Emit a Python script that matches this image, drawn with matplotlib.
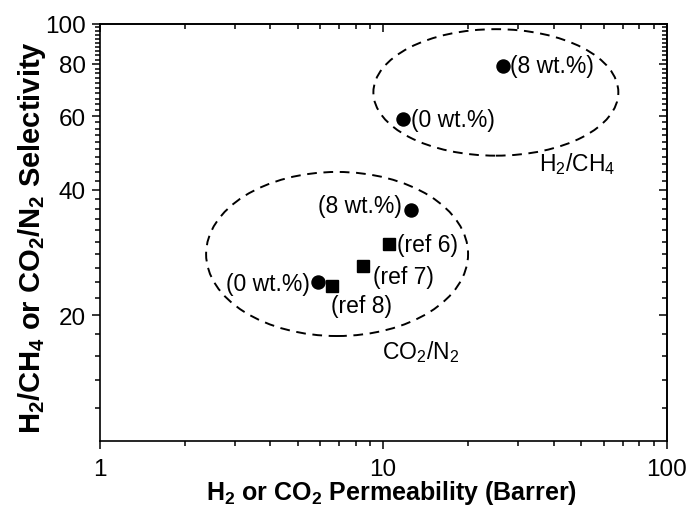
import matplotlib
matplotlib.use('Agg')
import matplotlib.pyplot as plt
from matplotlib.patches import Ellipse

plt.rcParams['font.family'] = ['Liberation Sans', 'DejaVu Sans']
plt.rcParams['mathtext.fontset'] = 'custom'
plt.rcParams['mathtext.rm'] = 'Liberation Sans'
plt.rcParams['mathtext.bf'] = 'Liberation Sans:bold'

# H2/CH4 : this work
h2_perm = [11.8, 26.5]
h2_sel = [59.0, 79.2]
h2_labels = ['(0 wt.%)', '(8 wt.%)']

# CO2/N2 : this work
co2_perm = [5.9, 12.6]
co2_sel = [24.0, 35.8]
co2_labels = ['(0 wt.%)', '(8 wt.%)']

# CO2/N2 : literature
ref_perm = [10.5, 8.5, 6.6]
ref_sel = [29.7, 26.3, 23.5]
ref_labels = ['(ref 6)', '(ref 7)', '(ref 8)']

x_ticks = [1, 10, 100]
y_ticks = [20, 40, 60, 80, 100]
y_minor = [v for v in range(12, 100, 2) if v % 20]

fig = plt.figure(figsize=(6.91, 5.10), dpi=100)
ax = fig.add_axes([0.144, 0.1333, 0.8206, 0.8186])
ax.set_xscale('log')
ax.set_yscale('log')
ax.set_xlim(1, 100)
ax.set_ylim(10, 100)

ax.plot(h2_perm, h2_sel, 'o', color='black', ms=9.4, zorder=3)
ax.plot(co2_perm, co2_sel, 'o', color='black', ms=9.4, zorder=3)
ax.plot(ref_perm, ref_sel, 's', color='black', ms=8.2, zorder=3)

fs_ann = 16.5
# label offsets in pixels (dx, dy, ha)
h2_off = [(8, 0, 'left'), (7, 0, 'left')]
co2_off = [(-8, -1, 'right'), (-10, 4, 'right')]
ref_off = [(8, -1, 'left'), (10, -11, 'left'), (-1, -19, 'left')]
for xs, ys, labs, offs in [(h2_perm, h2_sel, h2_labels, h2_off),
                           (co2_perm, co2_sel, co2_labels, co2_off),
                           (ref_perm, ref_sel, ref_labels, ref_off)]:
    for x, y, lab, (dx, dy, ha) in zip(xs, ys, labs, offs):
        ax.annotate(lab, (x, y), xytext=(dx, dy), textcoords='offset pixels',
                    ha=ha, va='center', fontsize=fs_ann)

# dashed regions
dash = (0, (5, 3.4))
ax.add_patch(Ellipse((0.699, 0.835), 0.432, 0.303, transform=ax.transAxes,
                     fill=False, ls=dash, lw=1.4, ec='black'))
ax.add_patch(Ellipse((0.419, 0.448), 0.462, 0.393, transform=ax.transAxes,
                     fill=False, ls=dash, lw=1.4, ec='black'))
ax.text(0.775, 0.665, 'H$_2$/CH$_4$', transform=ax.transAxes, fontsize=fs_ann,
        va='center', ha='left')
ax.text(0.499, 0.215, 'CO$_2$/N$_2$', transform=ax.transAxes, fontsize=fs_ann,
        va='center', ha='left')

# ticks
ax.set_xticks(x_ticks, labels=[str(t) for t in x_ticks])
ax.set_yticks(y_ticks, labels=[str(t) for t in y_ticks])
ax.set_yticks(y_minor, minor=True)
ax.yaxis.set_minor_formatter(plt.NullFormatter())
ax.tick_params(which='both', direction='out', width=1.1, labelsize=17.5)
ax.tick_params(which='major', length=6)
ax.tick_params(which='minor', length=3.5)
ax.tick_params(axis='x', pad=6)
ax.tick_params(axis='y', pad=4)
for s in ax.spines.values():
    s.set_linewidth(1.2)

top = ax.secondary_xaxis('top')
top.set_xticks(x_ticks)
top.tick_params(which='both', direction='in', labeltop=False, width=1.1)
top.tick_params(which='major', length=6)
top.tick_params(which='minor', length=3.5)
right = ax.secondary_yaxis('right')
right.set_yticks(y_ticks)
right.set_yticks(y_minor, minor=True)
right.tick_params(which='both', direction='in', labelright=False, width=1.1)
right.tick_params(which='major', length=6)
right.tick_params(which='minor', length=3.5)
for sec in (top, right):
    for s in sec.spines.values():
        s.set_linewidth(1.2)

fig.text(0.567, 0.033, r'H$_\mathbf{2}$ or CO$_\mathbf{2}$ Permeability (Barrer)',
         ha='center', va='center', fontsize=18, fontweight='bold')
fig.text(0.046, 0.535, r'H$_\mathbf{2}$/CH$_\mathbf{4}$ or CO$_\mathbf{2}$/N$_\mathbf{2}$ Selectivity',
         ha='center', va='center', rotation=90, fontsize=21, fontweight='bold')

fig.savefig('out.png', dpi=100)
